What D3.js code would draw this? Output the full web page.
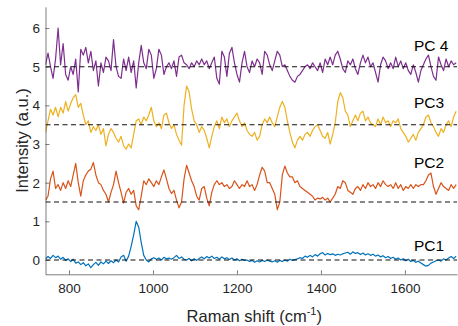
<!DOCTYPE html>
<html>
<head>
<meta charset="utf-8">
<script src="https://cdn.jsdelivr.net/npm/d3@7"></script>
<style>
  body { margin: 0; background: #fff; }
  svg { display: block; font-family: "Liberation Sans", Arial, sans-serif; }
</style>
</head>
<body>
<script>

// Raman shift axis (cm-1), shared by all four loadings
var shift = [744, 750, 756, 762, 768, 774, 780, 786, 792, 798,
    804, 810, 816, 822, 828, 834, 840, 846, 852, 858,
    864, 870, 876, 882, 888, 894, 900, 906, 912, 918,
    924, 930, 936, 942, 948, 954, 960, 966, 972, 978,
    984, 990, 996, 1002, 1008, 1014, 1020, 1026, 1032, 1038,
    1044, 1050, 1056, 1062, 1068, 1074, 1080, 1086, 1092, 1098,
    1104, 1110, 1116, 1122, 1128, 1134, 1140, 1146, 1152, 1158,
    1164, 1170, 1176, 1182, 1188, 1194, 1200, 1206, 1212, 1218,
    1224, 1230, 1236, 1242, 1248, 1254, 1260, 1266, 1272, 1278,
    1284, 1290, 1296, 1302, 1308, 1314, 1320, 1326, 1332, 1338,
    1344, 1350, 1356, 1362, 1368, 1374, 1380, 1386, 1392, 1398,
    1404, 1410, 1416, 1422, 1428, 1434, 1440, 1446, 1452, 1458,
    1464, 1470, 1476, 1482, 1488, 1494, 1500, 1506, 1512, 1518,
    1524, 1530, 1536, 1542, 1548, 1554, 1560, 1566, 1572, 1578,
    1584, 1590, 1596, 1602, 1608, 1614, 1620, 1626, 1632, 1638,
    1644, 1650, 1656, 1662, 1668, 1674, 1680, 1686, 1692, 1698,
    1704, 1710, 1716, 1722];

// loadings, already offset as in the figure
var pc1 = [0.03, 0.09, 0.04, 0.12, 0.06, 0.1, 0.02, 0.07, -0.01, 0.03,
    -0.04, 0.02, -0.08, -0.05, -0.12, -0.07, -0.15, -0.1, -0.2, -0.12,
    -0.06, -0.14, -0.05, -0.1, -0.03, -0.09, -0.02, -0.07, 0.0, -0.05,
    0.08, 0.12, -0.03, 0.1, 0.35, 0.65, 1.0, 0.85, 0.45, 0.12,
    0.0, -0.05, 0.03, 0.06, 0.02, 0.05, 0.0, 0.07, 0.03, 0.05,
    0.02, 0.06, 0.12, 0.04, 0.08, 0.02, 0.0, 0.04, -0.02, 0.03,
    -0.01, 0.04, 0.08, 0.03, 0.09, 0.05, 0.1, 0.04, 0.07, 0.02,
    0.08, 0.03, 0.06, 0.01, 0.05, 0.0, 0.03, -0.02, 0.02, -0.01,
    0.0, -0.04, -0.01, -0.06, -0.02, -0.05, -0.01, -0.04, 0.0, -0.03,
    -0.05, -0.02, -0.06, -0.01, -0.04, 0.0, -0.03, 0.02, -0.01, 0.01,
    0.03, 0.06, 0.04, 0.1, 0.07, 0.12, 0.08, 0.14, 0.1, 0.16,
    0.19, 0.13, 0.17, 0.14, 0.16, 0.12, 0.15, 0.13, 0.16, 0.18,
    0.2, 0.15, 0.21, 0.17, 0.19, 0.14, 0.18, 0.13, 0.16, 0.12,
    0.15, 0.1, 0.13, 0.08, 0.11, 0.06, 0.09, 0.04, 0.07, 0.02,
    0.05, 0.0, 0.03, -0.02, 0.02, -0.04, -0.01, -0.06, -0.03, -0.08,
    -0.12, -0.16, -0.14, -0.08, -0.05, -0.02, 0.0, -0.03, 0.03, 0.0,
    0.05, 0.09, 0.04, 0.1];

var pc2 = [1.55, 1.65, 2.1, 2.3, 1.85, 1.95, 1.8, 2.0, 1.85, 2.05,
    1.9, 2.2, 2.5, 2.0, 1.65, 2.05, 2.2, 2.3, 2.35, 2.52,
    2.2, 2.0, 1.95, 1.8, 1.7, 1.5, 1.75, 1.95, 2.3, 2.0,
    1.75, 1.47, 1.75, 1.85, 1.7, 1.8, 1.4, 1.3, 1.65, 2.05,
    1.95, 2.1, 2.0, 1.9, 2.05, 1.95, 2.15, 2.33, 2.1, 1.85,
    1.72, 1.8, 1.55, 1.35, 1.5, 2.1, 2.45, 2.25, 2.05, 1.9,
    1.65, 1.55, 1.85, 1.9, 1.6, 1.4, 1.75, 1.95, 2.05, 1.95,
    2.0, 1.9, 1.95, 1.85, 1.9, 2.05, 1.95, 1.85, 1.95, 1.9,
    2.05, 1.9, 1.95, 1.8, 1.95, 2.2, 2.4, 2.3, 2.0, 2.0,
    1.85, 1.7, 1.3, 1.5, 2.2, 2.43, 2.25, 2.15, 2.15, 2.0,
    2.05, 1.9, 1.85, 1.8, 1.75, 1.7, 1.65, 1.55, 1.6, 1.58,
    1.62, 1.55, 1.6, 1.5, 1.6, 1.7, 1.9, 1.85, 2.05, 2.0,
    1.8, 1.75, 1.7, 1.85, 1.9, 1.8, 1.95, 1.85, 2.0, 1.9,
    1.95, 1.85, 2.0, 1.9, 2.05, 1.95, 1.9, 1.95, 1.85, 2.0,
    1.85, 1.95, 1.8, 1.9, 1.85, 1.95, 1.85, 1.95, 1.9, 1.95,
    1.95, 2.05, 2.2, 2.25, 1.9, 1.7, 1.85, 2.0, 1.9, 1.85,
    1.8, 1.95, 1.85, 1.95];

var pc3 = [3.3, 3.6, 3.9, 3.75, 3.95, 3.7, 3.95, 3.8, 4.1, 3.85,
    4.05, 4.2, 4.28, 3.95, 4.05, 3.75, 3.5, 3.6, 3.3, 3.45,
    3.35, 3.5, 3.25, 3.4, 2.95, 3.25, 3.4, 3.3, 3.15, 3.05,
    3.2, 2.95, 2.87, 3.0, 2.9, 3.25, 3.6, 3.65, 3.5, 3.7,
    3.6, 3.75, 3.95, 3.6, 3.45, 3.55, 3.4, 3.75, 3.8, 3.55,
    3.4, 3.5, 3.25, 3.1, 2.97, 4.0, 4.5, 4.35, 3.9, 3.6,
    3.5, 3.3, 3.45, 3.35, 3.15, 2.9, 3.2, 3.45, 3.6, 3.4,
    3.7, 3.55, 3.65, 3.45, 3.6, 3.7, 3.8, 3.6, 3.45, 3.55,
    3.35, 3.25, 3.2, 3.3, 3.1, 3.2, 3.5, 3.65, 3.55, 3.7,
    3.55, 3.45, 3.7, 3.95, 4.1, 3.95, 3.6, 3.3, 3.05, 2.9,
    3.1, 3.2, 3.1, 3.25, 3.3, 3.2, 3.35, 3.45, 3.5, 3.35,
    3.2, 3.15, 3.3, 3.0, 3.25, 3.55, 4.1, 4.33, 4.2, 3.85,
    3.75, 3.45, 3.6, 3.75, 3.6, 3.8, 3.85, 3.6, 3.7, 3.55,
    3.5, 3.45, 3.65, 3.5, 3.7, 3.55, 3.6, 3.45, 3.6, 3.55,
    3.65, 3.4, 3.3, 3.2, 3.05, 3.15, 3.25, 3.1, 3.3, 3.4,
    3.5, 3.7, 3.75, 3.55, 3.45, 3.3, 3.2, 3.4, 3.3, 3.5,
    3.6, 3.45, 3.7, 3.85];

var pc4 = [5.05, 5.35, 5.0, 4.7, 5.2, 6.0, 5.05, 5.6, 4.8, 4.65,
    5.0, 4.8, 5.2, 4.35, 5.45, 5.3, 5.5, 5.1, 5.4, 4.9,
    5.15, 4.5, 5.1, 4.85, 5.25, 5.15, 4.9, 5.7, 5.0, 4.75,
    4.7, 5.2, 4.9, 5.25, 4.85, 5.15, 4.45, 5.1, 5.55, 5.1,
    4.95, 5.45, 5.3, 4.7, 4.95, 5.45, 5.3, 4.8, 5.0, 5.1,
    4.95, 5.15, 4.75, 5.25, 5.3, 5.1, 5.05, 4.95, 5.1, 5.0,
    5.15, 5.05, 5.2, 5.05, 5.15, 4.95, 5.1, 5.25, 4.7, 4.55,
    5.4, 5.25, 4.75, 5.35, 5.5, 5.1, 4.8, 4.6, 5.1, 5.4,
    5.0, 4.85, 5.15, 5.0, 5.2, 5.1, 4.8, 5.4, 5.3, 5.05,
    4.9, 5.15, 5.4, 5.3, 5.0, 5.05, 4.9, 4.75, 4.65, 4.6,
    4.75, 4.8, 4.9, 5.0, 5.05, 4.95, 5.1, 5.0, 4.9, 5.1,
    4.85, 5.2, 5.05, 5.25, 5.05, 5.3, 5.4, 5.2, 4.95, 4.85,
    5.15, 5.05, 5.2, 4.95, 4.8, 5.1, 5.3, 5.1, 5.25, 5.0,
    5.1, 4.85, 4.6, 5.05, 5.25, 5.15, 4.95, 5.1, 4.95, 5.25,
    5.0, 5.15, 4.95, 5.1, 4.9, 4.8, 5.05, 4.85, 4.6, 4.9,
    5.05, 5.2, 5.3, 5.0, 4.75, 4.65, 5.25, 5.05, 4.9, 5.2,
    5.0, 5.15, 5.05, 5.1];

var seriesNames = ["PC1", "PC2", "PC3", "PC 4"];
var seriesColors = ["#0072BD", "#D95319", "#EDB120", "#7E2F8E"];
var baselines = [0, 1.5, 3.5, 5];   // dashed reference levels
var labelLevels = [0.23, 2.39, 3.92, 5.41]; // baseline of each name
var yTicks = [0, 1, 2, 3, 4, 5, 6];
var xTicks = [800, 1000, 1200, 1400, 1600];

var width = 458, height = 326;
var margin = { top: 6.8, right: 1, bottom: 51.7, left: 45.5 };

var svg = d3.select("body").append("svg")
    .attr("width", width)
    .attr("height", height);

var x = d3.scaleLinear()
    .domain([744, 1724])
    .range([margin.left, width - margin.right]);

var y = d3.scaleLinear()
    .domain([-0.37, 6.55])
    .range([height - margin.bottom, margin.top]);

svg.append("clipPath").attr("id", "plotclip")
    .append("rect")
    .attr("x", margin.left)
    .attr("y", margin.top)
    .attr("width", width - margin.right - margin.left)
    .attr("height", height - margin.bottom - margin.top);

var plot = svg.append("g").attr("clip-path", "url(#plotclip)");

var data = [pc1, pc2, pc3, pc4];

var line = d3.line()
    .x(function (d, i) { return x(shift[i]); })
    .y(function (d) { return y(d); });

// spectra
plot.selectAll(".trace")
    .data(data)
    .enter().append("path")
    .attr("class", "trace")
    .attr("d", line)
    .attr("fill", "none")
    .attr("stroke", function (d, i) { return seriesColors[i]; })
    .attr("stroke-width", 1.2)
    .attr("stroke-linejoin", "round");

// dashed zero lines on top
plot.selectAll(".base")
    .data(baselines)
    .enter().append("line")
    .attr("class", "base")
    .attr("x1", x(744))
    .attr("x2", x(1724))
    .attr("y1", function (d) { return y(d); })
    .attr("y2", function (d) { return y(d); })
    .attr("stroke", "#111")
    .attr("stroke-width", 1.1)
    .attr("stroke-dasharray", "5,3.5");

// series names
svg.selectAll(".pclabel")
    .data(seriesNames)
    .enter().append("text")
    .attr("class", "pclabel")
    .attr("x", 414)
    .attr("y", function (d, i) { return y(labelLevels[i]); })
    .style("font-size", "15.5px")
    .style("fill", "#000")
    .text(function (d) { return d; });

// axes
var xAxis = d3.axisBottom(x)
    .tickValues(xTicks)
    .tickFormat(d3.format("d"))
    .tickSizeInner(-4)
    .tickSizeOuter(0)
    .tickPadding(8.8);

var yAxis = d3.axisLeft(y)
    .tickValues(yTicks)
    .tickFormat(d3.format("d"))
    .tickSizeInner(-4)
    .tickSizeOuter(0)
    .tickPadding(5.5);

var gx = svg.append("g")
    .attr("transform", "translate(0," + (height - margin.bottom) + ")")
    .call(xAxis);

var gy = svg.append("g")
    .attr("transform", "translate(" + margin.left + ",0)")
    .call(yAxis);

[gx, gy].forEach(function (g) {
    g.select(".domain").attr("stroke", "#262626").attr("stroke-width", 0.6);
    g.selectAll(".tick line").attr("stroke", "#262626").attr("stroke-width", 0.6);
    g.selectAll(".tick text")
        .attr("fill", "#262626")
        .style("font-size", "13.5px")
        .style("font-family", "'Liberation Sans', Arial, sans-serif");
});

// axis titles
var xt = svg.append("text")
    .attr("x", (margin.left + width - margin.right) / 2 + 3)
    .attr("y", 322)
    .attr("text-anchor", "middle")
    .style("font-size", "16.5px")
    .style("fill", "#262626");
xt.append("tspan").text("Raman shift (cm");
xt.append("tspan").attr("dy", -7).style("font-size", "11px").text("-1");
xt.append("tspan").attr("dy", 7).text(")");

svg.append("text")
    .attr("transform", "translate(28," + ((margin.top + height - margin.bottom) / 2) + ") rotate(-90)")
    .attr("text-anchor", "middle")
    .style("font-size", "16.5px")
    .style("fill", "#262626")
    .text("Intensity (a.u.)");

</script>
</body>
</html>
